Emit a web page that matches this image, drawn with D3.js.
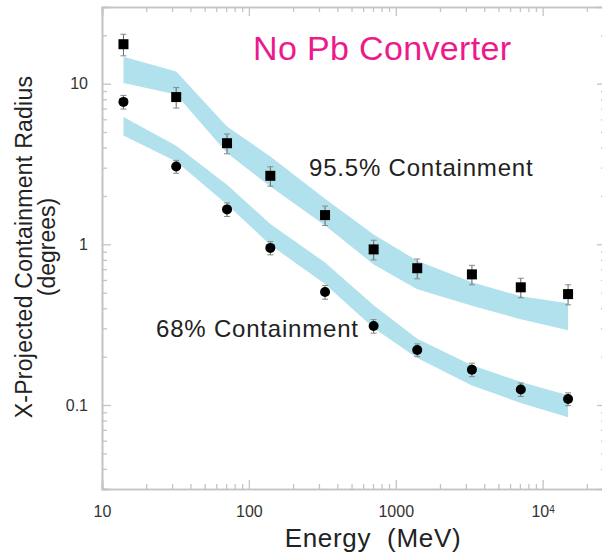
<!DOCTYPE html>
<html>
<head>
<meta charset="utf-8">
<script src="https://cdn.jsdelivr.net/npm/d3@7"></script>
<style>
  body { margin: 0; background: #fff; }
  svg { font-family: "Liberation Sans", Arial, Helvetica, sans-serif; display: block; }
  .frame line, .frame path { stroke: #c4c4c4; }
  .tickLabel text { fill: #333; }
</style>
</head>
<body>
<div id="chart"></div>
<script>
// data
var energy = [14, 32, 71, 140, 330, 707, 1400, 3300, 7100, 14900];

var r955 = [17.6, 8.25, 4.26, 2.67, 1.52, 0.93, 0.71, 0.65, 0.54, 0.49];
var r955Err = [2.7, 1.2, 0.6, 0.37, 0.21, 0.13, 0.1, 0.09, 0.075, 0.07];
var r68 = [7.7, 3.05, 1.65, 0.95, 0.505, 0.31, 0.22, 0.166, 0.125, 0.109];
var r68Err = [0.75, 0.28, 0.16, 0.09, 0.05, 0.03, 0.02, 0.016, 0.012, 0.01];

// simulation bands (upper / lower edge)
var band955Hi = [14.7, 11.9, 5.41, 3.52, 1.92, 1.15, 0.79, 0.58, 0.475, 0.43];
var band955Lo = [10.1, 8.55, 3.70, 2.29, 1.31, 0.75, 0.525, 0.414, 0.342, 0.292];
var band68Hi = [6.2, 4.1, 2.35, 1.34, 0.77, 0.418, 0.258, 0.177, 0.139, 0.115];
var band68Lo = [4.75, 3.28, 1.77, 0.99, 0.567, 0.301, 0.196, 0.132, 0.103, 0.084];

var xMajor = [10, 100, 1000, 10000];
var xMinor = [20, 30, 40, 50, 60, 70, 80, 90, 200, 300, 400, 500, 600, 700, 800, 900,
  2000, 3000, 4000, 5000, 6000, 7000, 8000, 9000, 20000];
var yMajor = [0.1, 1, 10];
var yMinor = [0.03, 0.04, 0.05, 0.06, 0.07, 0.08, 0.09, 0.2, 0.3, 0.4, 0.5, 0.6, 0.7, 0.8, 0.9,
  2, 3, 4, 5, 6, 7, 8, 9, 20];

var svgWidth = 602;
var svgHeight = 556;

var margin = { top: 7, left: 102 };
var chartWidth = 504;
var chartHeight = 482;

var svg = d3.select("#chart")
  .append("svg")
  .attr("width", svgWidth)
  .attr("height", svgHeight);

var chartGroup = svg.append("g")
  .attr("transform", `translate(${margin.left},${margin.top})`);

var xScale = d3.scaleLog().domain([10, 27000]).range([0, chartWidth]);
var yScale = d3.scaleLog().domain([0.03, 30]).range([chartHeight, 0]);

// bands
function drawBand(hi, lo) {
  var area = d3.area()
    .x((d, i) => xScale(energy[i]))
    .y0((d, i) => yScale(lo[i]))
    .y1((d, i) => yScale(hi[i]));
  chartGroup.append("path")
    .datum(energy)
    .attr("d", area)
    .attr("fill", "#b1e1ec");
}
drawBand(band955Hi, band955Lo);
drawBand(band68Hi, band68Lo);

// frame with inward ticks
function frameAxis(axis, transform, values, size) {
  chartGroup.append("g")
    .attr("class", "frame")
    .attr("transform", transform)
    .call(axis.tickValues(values).tickSize(size).tickFormat(""))
    .call(g => g.selectAll("line").attr("stroke-width", 1.3))
    .call(g => g.select(".domain").attr("stroke-width", 1.6));
}
frameAxis(d3.axisBottom(xScale), `translate(0,${chartHeight})`, xMinor, -5);
frameAxis(d3.axisBottom(xScale), `translate(0,${chartHeight})`, xMajor, -9);
frameAxis(d3.axisTop(xScale), "translate(0,0)", xMinor, -5);
frameAxis(d3.axisTop(xScale), "translate(0,0)", xMajor, -9);
frameAxis(d3.axisLeft(yScale), "translate(0,0)", yMinor, -5);
frameAxis(d3.axisLeft(yScale), "translate(0,0)", yMajor, -9);
frameAxis(d3.axisRight(yScale), `translate(${chartWidth},0)`, yMinor, -5);
frameAxis(d3.axisRight(yScale), `translate(${chartWidth},0)`, yMajor, -9);

// tick labels
var xLabels = chartGroup.append("g")
  .attr("class", "tickLabel")
  .attr("transform", `translate(0,${chartHeight})`)
  .call(d3.axisBottom(xScale).tickValues(xMajor).tickSize(0).tickPadding(17)
    .tickFormat(d => d3.format("d")(d)));
xLabels.select(".domain").remove();
xLabels.selectAll("text")
  .attr("font-size", "16px")
  .each(function (d) {
    if (d === 10000) {
      var t = d3.select(this).text("10");
      t.append("tspan").attr("dy", "-0.45em").attr("font-size", "10px").text("4");
    }
  });

var yLabels = chartGroup.append("g")
  .attr("class", "tickLabel")
  .call(d3.axisLeft(yScale).tickValues(yMajor).tickSize(0).tickPadding(14)
    .tickFormat(d => String(d)));
yLabels.select(".domain").remove();
yLabels.selectAll("text").attr("font-size", "16px");

// error bars and markers
function drawPoints(vals, errs, shape) {
  var g = chartGroup.append("g");
  var pts = energy.map((e, i) => ({ e: e, v: vals[i], err: errs[i] }));

  g.selectAll(".bar").data(pts).enter()
    .append("line")
    .attr("x1", d => xScale(d.e))
    .attr("x2", d => xScale(d.e))
    .attr("y1", d => yScale(d.v + d.err))
    .attr("y2", d => yScale(d.v - d.err))
    .attr("stroke", "#666")
    .attr("stroke-width", 1);

  [1, -1].forEach(function (s) {
    g.selectAll(".cap").data(pts).enter()
      .append("line")
      .attr("x1", d => xScale(d.e) - 3)
      .attr("x2", d => xScale(d.e) + 3)
      .attr("y1", d => yScale(d.v + s * d.err))
      .attr("y2", d => yScale(d.v + s * d.err))
      .attr("stroke", "#888")
      .attr("stroke-width", 1);
  });

  if (shape === "square") {
    g.selectAll("rect").data(pts).enter()
      .append("rect")
      .attr("x", d => xScale(d.e) - 5)
      .attr("y", d => yScale(d.v) - 5)
      .attr("width", 10)
      .attr("height", 10)
      .attr("fill", "#000");
  } else {
    g.selectAll("circle").data(pts).enter()
      .append("circle")
      .attr("cx", d => xScale(d.e))
      .attr("cy", d => yScale(d.v))
      .attr("r", 5)
      .attr("fill", "#000");
  }
}
drawPoints(r955, r955Err, "square");
drawPoints(r68, r68Err, "circle");

// annotations
svg.append("text")
  .attr("x", 253)
  .attr("y", 60)
  .attr("font-size", "34px")
  .attr("letter-spacing", "0.35px")
  .attr("fill", "#ec1a8c")
  .text("No Pb Converter");

svg.append("text")
  .attr("x", 309)
  .attr("y", 176)
  .attr("font-size", "24px")
  .attr("letter-spacing", "0.8px")
  .attr("fill", "#222")
  .text("95.5% Containment");

svg.append("text")
  .attr("x", 156)
  .attr("y", 337)
  .attr("font-size", "24px")
  .attr("letter-spacing", "0.8px")
  .attr("fill", "#222")
  .text("68% Containment");

// axis titles
svg.append("text")
  .attr("x", 373)
  .attr("y", 547)
  .attr("text-anchor", "middle")
  .attr("font-size", "26px")
  .attr("letter-spacing", "0.7px")
  .attr("fill", "#222")
  .text("Energy\u00a0\u00a0(MeV)");

svg.append("text")
  .attr("transform", "translate(32,247) rotate(-90)")
  .attr("text-anchor", "middle")
  .attr("font-size", "23px")
  .attr("letter-spacing", "0.25px")
  .attr("fill", "#222")
  .text("X-Projected Containment Radius");

svg.append("text")
  .attr("transform", "translate(55,247) rotate(-90)")
  .attr("text-anchor", "middle")
  .attr("font-size", "23px")
  .attr("fill", "#222")
  .text("(degrees)");
</script>
</body>
</html>
